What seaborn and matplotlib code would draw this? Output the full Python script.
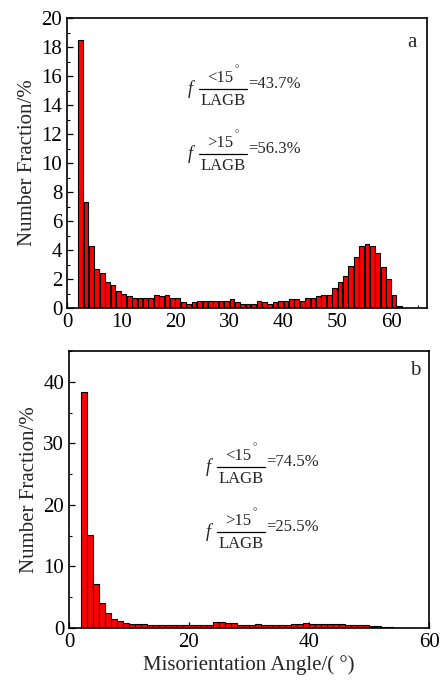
import numpy as np
import matplotlib
matplotlib.use('Agg')
import matplotlib.pyplot as plt
from matplotlib.lines import Line2D
from matplotlib.ticker import MultipleLocator
import seaborn as sns

# bin centres (deg) and number fraction (%) for the two samples
angles_a = np.arange(2.5, 62.0, 1.0)
frac_a = [18.5, 7.3, 4.3, 2.7, 2.4, 1.8, 1.6, 1.2, 1.0, 0.8,
          0.7, 0.7, 0.7, 0.7, 0.9, 0.8, 0.9, 0.7, 0.7, 0.4,
          0.3, 0.4, 0.5, 0.5, 0.5, 0.5, 0.5, 0.5, 0.6, 0.4,
          0.3, 0.3, 0.3, 0.5, 0.4, 0.3, 0.4, 0.5, 0.5, 0.6,
          0.6, 0.5, 0.7, 0.7, 0.8, 0.9, 0.9, 1.4, 1.8, 2.2,
          2.9, 3.5, 4.3, 4.4, 4.3, 3.8, 2.8, 2.0, 0.9, 0.15]

angles_b = np.arange(2.5, 58.0, 1.0)
frac_b = [38.4, 15.1, 7.1, 4.0, 2.4, 1.4, 1.2, 0.8, 0.7, 0.65,
          0.65, 0.5, 0.5, 0.5, 0.5, 0.45, 0.45, 0.5, 0.45, 0.45,
          0.5, 0.55, 0.9, 0.9, 0.8, 0.8, 0.5, 0.55, 0.55, 0.7,
          0.5, 0.5, 0.55, 0.55, 0.55, 0.7, 0.7, 0.75, 0.6, 0.6,
          0.6, 0.6, 0.6, 0.7, 0.5, 0.5, 0.5, 0.45, 0.4, 0.3,
          0.15, 0.08, 0.06, 0.05, 0.05, 0.03]

labels_a = ['=43.7%', '=56.3%']
labels_b = ['=74.5%', '=25.5%']

sns.set_style('ticks')
plt.rcParams['font.family'] = ['Liberation Serif', 'DejaVu Serif']

W, H = 448, 680
fig = plt.figure(figsize=(W / 100, H / 100), dpi=100)
ax_a = fig.add_axes([0.1496, 0.547, 0.8036, 0.4265])
ax_b = fig.add_axes([0.154, 0.0765, 0.8036, 0.4074])


def draw(ax, x, y):
    sns.barplot(x=x, y=y, native_scale=True, color='#ff0000', saturation=1,
                edgecolor='black', linewidth=0.8, width=0.87,
                errorbar=None, ax=ax)
    for s in ax.spines.values():
        s.set_visible(True)
        s.set_linewidth(1.2)
        s.set_color('black')
    ax.tick_params(which='both', direction='in', labelsize=15, colors='black',
                   top=False, right=False)
    ax.tick_params(which='major', length=4, width=0.9)
    ax.tick_params(which='minor', length=2.5, width=0.8)
    ax.set_ylabel('Number Fraction/%', fontsize=15, labelpad=3)


def px(x, y):
    # figure pixel (top-left origin) -> figure fraction
    return x / W, 1 - y / H


def frac_text(x0, y0, sign, val):
    # x0, y0: left end of the fraction bar, in figure pixels
    fig.text(*px(x0 - 9, y0), 'f', fontsize=13, style='italic',
             ha='center', va='center')
    fig.add_artist(Line2D([x0 / W, (x0 + 48) / W], [1 - y0 / H, 1 - y0 / H],
                          transform=fig.transFigure, color='black', lw=0.9))
    fig.text(*px(x0 + 21, y0 - 11), sign + '15', fontsize=12,
             ha='center', va='center')
    fig.text(*px(x0 + 38, y0 - 19), '°', fontsize=8,
             ha='center', va='center')
    fig.text(*px(x0 + 24, y0 + 12), 'LAGB', fontsize=12,
             ha='center', va='center')
    fig.text(*px(x0 + 49, y0 - 5), val, fontsize=12,
             ha='left', va='center')


draw(ax_a, angles_a, frac_a)
ax_a.set_xlim(0, 66.6)
ax_a.set_ylim(0, 20)
ax_a.xaxis.set_major_locator(MultipleLocator(10))
ax_a.xaxis.set_minor_locator(MultipleLocator(5))
ax_a.yaxis.set_major_locator(MultipleLocator(2))
ax_a.yaxis.set_minor_locator(MultipleLocator(1))
ax_a.set_xlabel('')
ax_a.text(0.958, 0.917, 'a', transform=ax_a.transAxes, fontsize=15,
          ha='center', va='center')
frac_text(199, 89, '<', labels_a[0])
frac_text(199, 154, '>', labels_a[1])

draw(ax_b, angles_b, frac_b)
ax_b.set_xlim(0, 60)
ax_b.set_ylim(0, 45)
ax_b.xaxis.set_major_locator(MultipleLocator(20))
ax_b.xaxis.set_minor_locator(MultipleLocator(10))
ax_b.yaxis.set_major_locator(MultipleLocator(10))
ax_b.yaxis.set_minor_locator(MultipleLocator(5))
ax_b.set_xlabel('Misorientation Angle/( °)', fontsize=15, labelpad=2)
ax_b.text(0.961, 0.931, 'b', transform=ax_b.transAxes, fontsize=15,
          ha='center', va='center')
frac_text(217, 467, '<', labels_b[0])
frac_text(217, 532, '>', labels_b[1])

fig.savefig('out.png', dpi=100)
